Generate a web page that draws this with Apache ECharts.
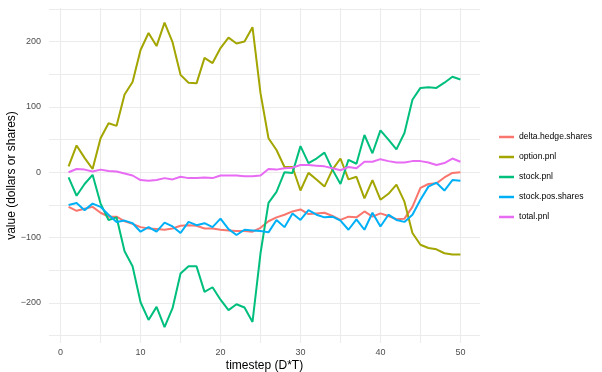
<!DOCTYPE html>
<html>
<head>
<meta charset="utf-8">
<script src="https://cdn.jsdelivr.net/npm/echarts@6/dist/echarts.min.js"></script>
<style>html,body{margin:0;padding:0;background:#fff}#c{width:602px;height:372px}</style>
</head>
<body>
<div id="c"></div>
<script>
var timestep = [];
for (var i = 1; i <= 50; i++) timestep.push(i);

var deltaHedgeShares = [-53,-59,-56,-53,-62,-68,-68,-75,-79,-84,-86,-87,-88,-86,-82,-81,-82,-86,-86,-88,-89,-90,-90,-91,-85,-75,-69,-65,-60,-57,-64,-63,-62,-67,-73,-68,-69,-60,-68,-63,-67,-72,-71,-53,-24,-18,-17,-8,-1,0];
var optionPnl = [9,41,22,5,52,75,71,119,138,187,213,193,229,199,149,137,136,175,167,190,206,197,200,222,121,52,34,8,8,-28,-1,-11,-22,4,21,-11,-7,-40,-12,-42,-33,-19,-45,-93,-111,-116,-118,-124,-126,-126];
var stockPnl = [-8,-36,-18,-4,-48,-73,-69,-121,-144,-199,-226,-206,-237,-208,-155,-144,-144,-183,-176,-195,-211,-202,-207,-229,-124,-47,-30,0,-1,40,14,21,30,4,-18,19,13,57,29,64,50,35,60,111,129,130,129,137,146,142];
var stockPosShares = [-50,-47,-58,-48,-53,-65,-76,-74,-78,-91,-84,-91,-77,-83,-93,-76,-81,-78,-84,-71,-87,-96,-88,-89,-90,-92,-73,-84,-63,-73,-58,-65,-69,-68,-74,-88,-72,-88,-62,-83,-65,-73,-76,-65,-42,-22,-16,-28,-12,-13];
var totalPnl = [0,5,4,1,4,2,1,-2,-5,-12,-13,-12,-9,-11,-7,-9,-9,-8,-9,-5,-5,-5,-6,-6,-5,5,4,6,7,11,11,10,9,6,3,8,6,16,16,20,17,15,15,17,17,15,11,14,21,16];

var seriesNames = ['delta.hedge.shares','option.pnl','stock.pnl','stock.pos.shares','total.pnl'];
var seriesData = [deltaHedgeShares, optionPnl, stockPnl, stockPosShares, totalPnl];
var colors = ['#F8766D','#A3A500','#00BF7D','#00B0F6','#E76BF3'];

var xTicks = [0,5,10,15,20,25,30,35,40,45,50];
var xLabels = [0,10,20,30,40,50];
var yTicks = [-250,-200,-150,-100,-50,0,50,100,150,200,250];
var yLabels = [-200,-100,0,100,200];

var FONT = '"Liberation Sans", Arial, Helvetica, sans-serif';

var chart = echarts.init(document.getElementById('c'), null, {renderer: 'canvas'});
chart.setOption({
  animation: false,
  backgroundColor: '#ffffff',
  color: colors,
  grid: {left: 49, right: 122, top: 8, bottom: 29, containLabel: false, outerBoundsMode: 'none'},
  legend: {
    orient: 'vertical', left: 499, top: 131, padding: 0,
    icon: 'rect', itemWidth: 15, itemHeight: 2.5, itemGap: 8,
    textStyle: {fontFamily: FONT, fontSize: 8.6, color: '#000', lineHeight: 12},
    data: seriesNames
  },
  xAxis: {
    type: 'value', min: -1.45, max: 52.45,
    name: 'timestep (D*T)', nameLocation: 'middle', nameGap: 17, nameMoveOverlap: false,
    nameTextStyle: {fontFamily: FONT, fontSize: 12, color: '#000'},
    axisLine: {show: false}, axisTick: {show: false, customValues: xTicks},
    axisLabel: {customValues: xLabels, margin: 5, fontFamily: FONT, fontSize: 9, color: '#4D4D4D'},
    splitLine: {show: true, lineStyle: {color: '#EBEBEB', width: 1}}
  },
  yAxis: {
    type: 'value', min: -261.3, max: 251.3,
    name: 'value (dollars or shares)', nameLocation: 'middle', nameGap: 31, nameRotate: 90, nameMoveOverlap: false,
    nameTextStyle: {fontFamily: FONT, fontSize: 12, color: '#000'},
    axisLine: {show: false}, axisTick: {show: false, customValues: yTicks},
    axisLabel: {customValues: yLabels, margin: 8, fontFamily: FONT, fontSize: 9, color: '#4D4D4D',
      formatter: function (v) { return String(v).replace('-', '\u2212'); }},
    splitLine: {show: true, lineStyle: {color: '#EBEBEB', width: 1}}
  },
  series: seriesNames.map(function (n, k) {
    return {
      name: n, type: 'line', showSymbol: false, symbol: 'none',
      lineStyle: {width: 2, color: colors[k]},
      itemStyle: {color: colors[k]},
      data: timestep.map(function (t, j) { return [t, seriesData[k][j]]; })
    };
  })
});
</script>
</body>
</html>
